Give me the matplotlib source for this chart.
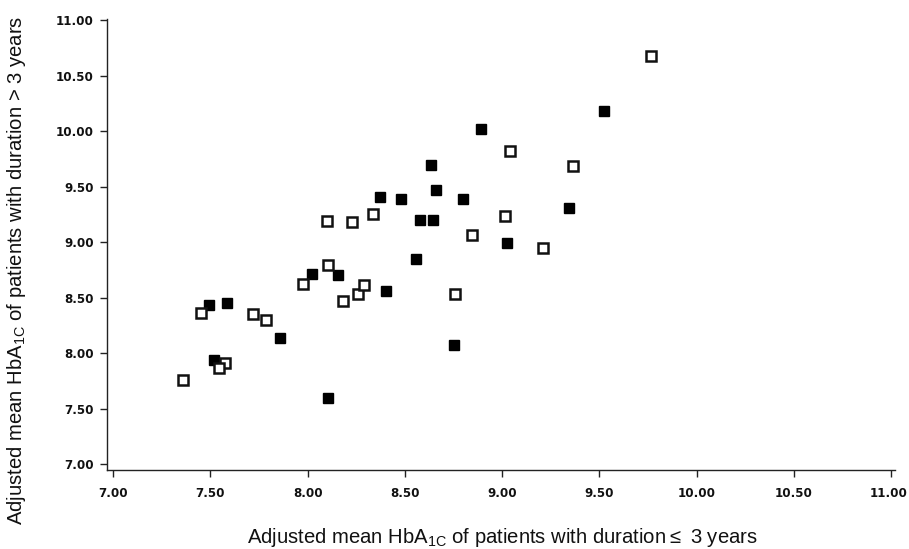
import numpy as np
import matplotlib as mpl
mpl.use('Agg')
import matplotlib.pyplot as plt

mpl.rcParams['font.family'] = ['Liberation Sans', 'DejaVu Sans']
mpl.rcParams['mathtext.fontset'] = 'custom'
mpl.rcParams['mathtext.rm'] = 'Liberation Sans'

# open squares
open_x = [7.36, 7.575, 7.544, 7.451, 7.72, 7.788, 7.978, 8.103, 8.183, 8.258, 8.287,
          8.758, 8.097, 8.228, 8.338, 9.038, 9.015, 8.844, 9.209, 9.362, 9.765]
open_y = [7.753, 7.91, 7.863, 8.36, 8.348, 8.30, 8.624, 8.795, 8.465, 8.534, 8.611,
          8.534, 9.187, 9.177, 9.255, 9.823, 9.231, 9.063, 8.949, 9.687, 10.681]

# filled squares
filled_x = [7.516, 7.49, 7.583, 7.858, 8.021, 8.155, 8.106, 8.401, 8.558, 8.753, 8.372,
            8.48, 8.635, 8.662, 8.799, 8.578, 8.645, 8.89, 9.027, 9.346, 9.525]
filled_y = [7.933, 8.429, 8.45, 8.138, 8.714, 8.703, 7.595, 8.561, 8.85, 8.075, 9.402,
            9.39, 9.696, 9.465, 9.387, 9.196, 9.201, 10.018, 8.994, 9.309, 10.177]

ticks = [7.0, 7.5, 8.0, 8.5, 9.0, 9.5, 10.0, 10.5, 11.0]
tick_labels = ['%.2f' % t for t in ticks]

fig = plt.figure(figsize=(9.09, 5.49), dpi=100)
ax = fig.add_axes([0.1177, 0.1439, 0.8669, 0.8215])

ax.plot(filled_x, filled_y, 's', color='black', markersize=7.5, linestyle='none')
ax.plot(open_x, open_y, 's', markerfacecolor='white', markeredgecolor='#111111',
        markeredgewidth=1.8, markersize=7.5, linestyle='none')

ax.set_xlim(6.968, 11.02)
ax.set_ylim(6.946, 11.01)
ax.set_xticks(ticks)
ax.set_xticklabels(tick_labels)
ax.set_yticks(ticks)
ax.set_yticklabels(tick_labels)

for s in ['top', 'right']:
    ax.spines[s].set_visible(False)
for s in ['left', 'bottom']:
    ax.spines[s].set_linewidth(1.0)
    ax.spines[s].set_color('#222222')

ax.tick_params(axis='x', direction='out', length=5, width=1, pad=7.5, color='#222222')
ax.tick_params(axis='y', direction='out', length=5, width=1, pad=4.5, color='#222222')
for lab in ax.get_xticklabels() + ax.get_yticklabels():
    lab.set_family(['DejaVu Sans'])
    lab.set_fontweight('bold')
    lab.set_fontsize(8.6)
    lab.set_color('#111111')
# last x label sits on the right edge, nudge it inside
ax.get_xticklabels()[-1].set_horizontalalignment('right')
ax.get_xticklabels()[-1].set_x(11.0)
import matplotlib.transforms as mtransforms
ax.get_xticklabels()[-1].set_transform(ax.get_xticklabels()[-1].get_transform() +
                                       mtransforms.ScaledTranslation(16 / 100, 0, fig.dpi_scale_trans))

xlabel = r'Adjusted mean HbA$_{\mathregular{1C}}$ of patients with duration$\leq$ 3 years'
ylabel = r'Adjusted mean HbA$_{\mathregular{1C}}$ of patients with duration > 3 years'
fig.text(502 / 909, 1 - 543 / 549, xlabel, ha='center', va='baseline', fontsize=14.6, color='#111111')
fig.text(17 / 909, 1 - 270 / 549, ylabel, ha='center', va='center', rotation=90,
         fontsize=14.6, color='#111111')

plt.savefig('out.png', dpi=100)
